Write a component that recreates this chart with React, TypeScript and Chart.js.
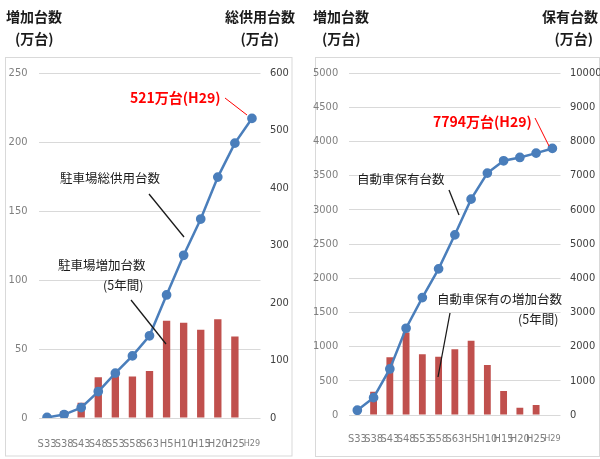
import React, { useEffect, useRef } from "react";
import { Chart, registerables } from "chart.js";
Chart.register(...registerables);

const categories = ["S33", "S38", "S43", "S48", "S53", "S58", "S63", "H5", "H10", "H15", "H20", "H25", "H29"];
const parkingIncrease = [null, 5, 11, 29.5, 32, 30, 34, 70.5, 69, 64, 71.5, 59, null];
const parkingTotal = [1, 6, 18, 46, 78, 108, 143, 214, 283, 346, 419, 478, 521];
const vehicleIncrease = [null, 341, 844, 1205, 888, 853, 961, 1087, 732, 351, 107, 146, null];
const vehicleTotal = [140, 507, 1346, 2537, 3434, 4273, 5268, 6312, 7073, 7433, 7530, 7658, 7794];
const parkingLeftTicks = { max: 250, step: 50 };
const parkingRightTicks = { max: 600, step: 100 };
const vehicleLeftTicks = { max: 5000, step: 500 };
const vehicleRightTicks = { max: 10000, step: 1000 };

const JP = "'Noto Sans CJK JP', 'Noto Sans', sans-serif";
const NUM = "'Liberation Sans Narrow', 'DejaVu Sans Condensed', 'Liberation Sans', sans-serif";
const BAR = "#C0504D";
const LINE = "#4A7EBB";

type Txt = { t: string; x: number; y: number; size: number; bold?: boolean; color?: string; align?: CanvasTextAlign };
type Ln = { x1: number; y1: number; x2: number; y2: number; color: string; w: number };

const decoPlugin = {
  id: "deco",
  beforeDraw(chart: any, _a: any, opts: any) {
    const ctx = chart.ctx;
    const b = opts.box;
    ctx.save();
    ctx.fillStyle = "#fff";
    ctx.fillRect(0, 0, chart.width, chart.height);
    ctx.strokeStyle = "#D9D9D9";
    ctx.lineWidth = 1;
    ctx.strokeRect(b[0], b[1], b[2], b[3]);
    ctx.restore();
  },
  afterDatasetsDraw(chart: any, _a: any, opts: any) {
    const ctx = chart.ctx;
    ctx.save();
    (opts.lines as Ln[]).forEach((l) => {
      ctx.strokeStyle = l.color;
      ctx.lineWidth = l.w;
      ctx.beginPath();
      ctx.moveTo(l.x1, l.y1);
      ctx.lineTo(l.x2, l.y2);
      ctx.stroke();
    });
    (opts.texts as Txt[]).forEach((t) => {
      ctx.font = `${t.bold ? "bold " : ""}${t.size}px ${JP}`;
      ctx.fillStyle = t.color || "#1a1a1a";
      ctx.textAlign = t.align || "left";
      ctx.textBaseline = "middle";
      ctx.fillText(t.t, t.x, t.y);
    });
    ctx.restore();
  },
};

function makeConfig(p: {
  bars: (number | null)[];
  line: number[];
  lt: { max: number; step: number };
  rt: { max: number; step: number };
  leftW: number;
  rightW: number;
  xH: number;
  xPad: number;
  barPct: number;
  texts: Txt[];
  lines: Ln[];
  box: number[];
}) {
  return {
    type: "bar" as const,
    data: {
      labels: categories,
      datasets: [
        {
          type: "line" as const,
          data: p.line,
          yAxisID: "y1",
          borderColor: LINE,
          backgroundColor: LINE,
          borderWidth: 2.5,
          pointRadius: 3.6,
          pointBackgroundColor: LINE,
          pointBorderColor: LINE,
          tension: 0,
          order: 0,
        },
        {
          type: "bar" as const,
          data: p.bars,
          yAxisID: "y",
          backgroundColor: BAR,
          categoryPercentage: 1,
          barPercentage: p.barPct,
          order: 1,
        },
      ],
    },
    options: {
      responsive: false,
      animation: false as const,
      layout: { padding: { top: 73, left: 0, right: 0, bottom: 0 } },
      plugins: {
        legend: { display: false },
        tooltip: { enabled: false },
        deco: { texts: p.texts, lines: p.lines, box: p.box },
      },
      scales: {
        x: {
          grid: { display: false },
          border: { display: false },
          ticks: {
            autoSkip: false,
            maxRotation: 0,
            padding: p.xPad,
            color: "#7F7F7F",
            font: (c: any) => (c.index === 12 ? { size: 9, family: NUM } : { size: 11, family: NUM }),
          },
          afterFit: (s: any) => {
            s.height = p.xH;
          },
        },
        y: {
          position: "left" as const,
          min: 0,
          max: p.lt.max,
          grid: { color: "#D9D9D9", drawTicks: false, lineWidth: 1 },
          border: { display: false },
          ticks: {
            stepSize: p.lt.step,
            padding: 11,
            color: "#7F7F7F",
            font: { size: 11, family: NUM },
            callback: (v: any) => String(v),
          },
          afterFit: (s: any) => {
            s.width = p.leftW;
          },
        },
        y1: {
          position: "right" as const,
          min: 0,
          max: p.rt.max,
          grid: { display: false, drawTicks: false },
          border: { display: false },
          ticks: {
            stepSize: p.rt.step,
            padding: 9.5,
            color: "#404040",
            font: { size: 11, family: NUM },
            callback: (v: any) => String(v),
          },
          afterFit: (s: any) => {
            s.width = p.rightW;
          },
        },
      },
    },
    plugins: [decoPlugin],
  };
}

const leftTexts: Txt[] = [
  { t: "増加台数", x: 6, y: 17, size: 14, bold: true },
  { t: "(万台)", x: 15, y: 39, size: 14, bold: true },
  { t: "総供用台数", x: 295, y: 17, size: 14, bold: true, align: "right" },
  { t: "(万台)", x: 279, y: 39, size: 14, bold: true, align: "right" },
  { t: "521万台(H29)", x: 130, y: 98, size: 14, bold: true, color: "#FF0000" },
  { t: "駐車場総供用台数", x: 60, y: 178, size: 12.5 },
  { t: "駐車場増加台数", x: 58, y: 265, size: 12.5 },
  { t: "(5年間)", x: 103, y: 285, size: 12.5 },
];
const leftLines: Ln[] = [
  { x1: 225, y1: 98, x2: 247, y2: 115, color: "#FF0000", w: 1 },
  { x1: 149, y1: 194, x2: 184, y2: 237, color: "#1a1a1a", w: 1.3 },
  { x1: 131, y1: 300, x2: 166, y2: 344, color: "#1a1a1a", w: 1.3 },
];
const rightTexts: Txt[] = [
  { t: "増加台数", x: 13, y: 17, size: 14, bold: true },
  { t: "(万台)", x: 22, y: 39, size: 14, bold: true },
  { t: "保有台数", x: 298, y: 17, size: 14, bold: true, align: "right" },
  { t: "(万台)", x: 293, y: 39, size: 14, bold: true, align: "right" },
  { t: "7794万台(H29)", x: 133, y: 122, size: 14, bold: true, color: "#FF0000" },
  { t: "自動車保有台数", x: 57, y: 179, size: 12.5 },
  { t: "自動車保有の増加台数", x: 137, y: 299, size: 12.5 },
  { t: "(5年間)", x: 218, y: 319, size: 12.5 },
];
const rightLines: Ln[] = [
  { x1: 235, y1: 118, x2: 249, y2: 146, color: "#FF0000", w: 1 },
  { x1: 149, y1: 190, x2: 159, y2: 215, color: "#1a1a1a", w: 1.3 },
  { x1: 150, y1: 313, x2: 138, y2: 377, color: "#1a1a1a", w: 1.3 },
];

export default function App() {
  const leftRef = useRef<HTMLCanvasElement>(null);
  const rightRef = useRef<HTMLCanvasElement>(null);
  useEffect(() => {
    const c1 = new Chart(
      leftRef.current as HTMLCanvasElement,
      makeConfig({
        bars: parkingIncrease,
        line: parkingTotal,
        lt: parkingLeftTicks,
        rt: parkingRightTicks,
        leftW: 38.5,
        rightW: 39.5,
        xH: 41,
        xPad: 12,
        barPct: 0.43,
        texts: leftTexts,
        lines: leftLines,
        box: [5.5, 57.5, 286.5, 398.5],
      }) as any
    );
    const c2 = new Chart(
      rightRef.current as HTMLCanvasElement,
      makeConfig({
        bars: vehicleIncrease,
        line: vehicleTotal,
        lt: vehicleLeftTicks,
        rt: vehicleRightTicks,
        leftW: 49.2,
        rightW: 39.5,
        xH: 44,
        xPad: 10,
        barPct: 0.42,
        texts: rightTexts,
        lines: rightLines,
        box: [15.5, 57.5, 284, 399],
      }) as any
    );
    return () => {
      c1.destroy();
      c2.destroy();
    };
  }, []);
  return (
    <div style={{ position: "fixed", left: 0, top: 0, width: 600, height: 459, background: "#fff" }}>
      <canvas ref={leftRef} width={300} height={459} style={{ position: "absolute", left: 0, top: 0, width: 300, height: 459 }} />
      <canvas ref={rightRef} width={300} height={459} style={{ position: "absolute", left: 300, top: 0, width: 300, height: 459 }} />
    </div>
  );
}
